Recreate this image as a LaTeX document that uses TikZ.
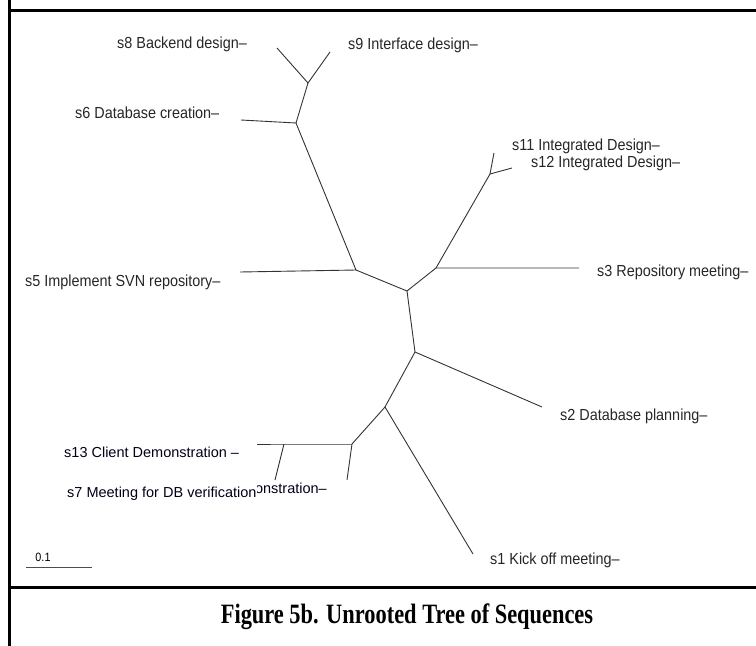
\documentclass[tikz,border=0pt]{standalone}
\usepackage{fontspec}
\setmainfont{Liberation Sans}
\newfontfamily\lblfont[FakeStretch=0.9]{Liberation Sans}
\newfontfamily\capfont{Liberation Serif}
\begin{document}
\begin{tikzpicture}[x=1pt,y=-1pt,
  branch/.style={draw=black!80, line width=0.9pt},
  leaflabel/.style={font=\lblfont\fontsize{16}{18}\selectfont, inner sep=0pt, anchor=west, text=black!85},
  demolabel/.style={font=\fontsize{14.5}{16}\selectfont, inner sep=0pt, text=black!90!blue},
  frameline/.style={line width=3pt}]
\useasboundingbox (0,0) rectangle (756,646);

% frame and caption divider
\draw[frameline] (9,-5) -- (9,651);
\draw[frameline] (9,10) -- (761,10);
\draw[frameline] (9,587) -- (761,587);

% inner vertices of the tree
\coordinate (A) at (308,83);
\coordinate (B) at (296,123);
\coordinate (C) at (356,270);
\coordinate (D) at (407,291);
\coordinate (E) at (436,268);
\coordinate (J) at (490,174);
\coordinate (F) at (415,352);
\coordinate (G) at (385,407);
\coordinate (H) at (352,444);
\coordinate (I) at (284,444);

% leaf ends
\coordinate (l8) at (277,48);
\coordinate (l9) at (330,52);
\coordinate (l6) at (241,120);
\coordinate (l5) at (240,272);
\coordinate (l3) at (579,268);
\coordinate (l11) at (494,153);
\coordinate (l12) at (512,168);
\coordinate (l2) at (542,407);
\coordinate (l1) at (473,554);
\coordinate (l10) at (347,480);
\coordinate (l13) at (257,444);
\coordinate (l7) at (275,480);

% branches
\draw[branch] (l8) -- (A) -- (l9);
\draw[branch] (A) -- (B) -- (l6);
\draw[branch] (B) -- (C) -- (l5);
\draw[branch] (C) -- (D) -- (E) -- (l3);
\draw[branch] (E) -- (J) -- (l11);
\draw[branch] (J) -- (l12);
\draw[branch] (D) -- (F) -- (l2);
\draw[branch] (F) -- (G) -- (l1);
\draw[branch] (G) -- (H) -- (l10);
\draw[branch] (H) -- (I) -- (l13);
\draw[branch] (I) -- (l7);

% leaf labels
\node[leaflabel] (t8) at (117,44) {s8 Backend design–};
\node[leaflabel] (t9) at (348,45) {s9 Interface design–};
\node[leaflabel] (t6) at (75,113) {s6 Database creation–};
\node[leaflabel] (t11) at (512,146) {s11 Integrated Design–};
\node[leaflabel] (t12) at (531,163) {s12 Integrated Design–};
\node[leaflabel] (t3) at (597,272) {s3 Repository meeting–};
\node[leaflabel] (t5) at (25,282) {s5 Implement SVN repository–};
\node[leaflabel] (t2) at (560,416) {s2 Database planning–};
\node[leaflabel] (t1) at (490,560) {s1 Kick off meeting–};
\node[demolabel, anchor=west] (t13) at (64,452) {s13 Client Demonstration –};
\node[demolabel, anchor=east] (t10) at (327,490) {s10 Meeting for Demonstration–};
\node[demolabel, anchor=west, fill=white, inner ysep=6pt] (t7) at (67,494) {s7 Meeting for DB verification};

% scale bar
\coordinate (sb1) at (26,567);
\coordinate (sb2) at (92,567);
\draw[black!70, line width=0.9pt] (sb1) -- (sb2);
\node[font=\lblfont\fontsize{12}{13}\selectfont, inner sep=0pt] (sbl) at (43,557) {0.1};

% caption
\node[inner sep=0pt] (cap) at (407,617)
  {\scalebox{0.8}[1]{\capfont\bfseries\fontsize{28}{30}\selectfont Figure 5b. Unrooted Tree of Sequences}};
\end{tikzpicture}
\end{document}
